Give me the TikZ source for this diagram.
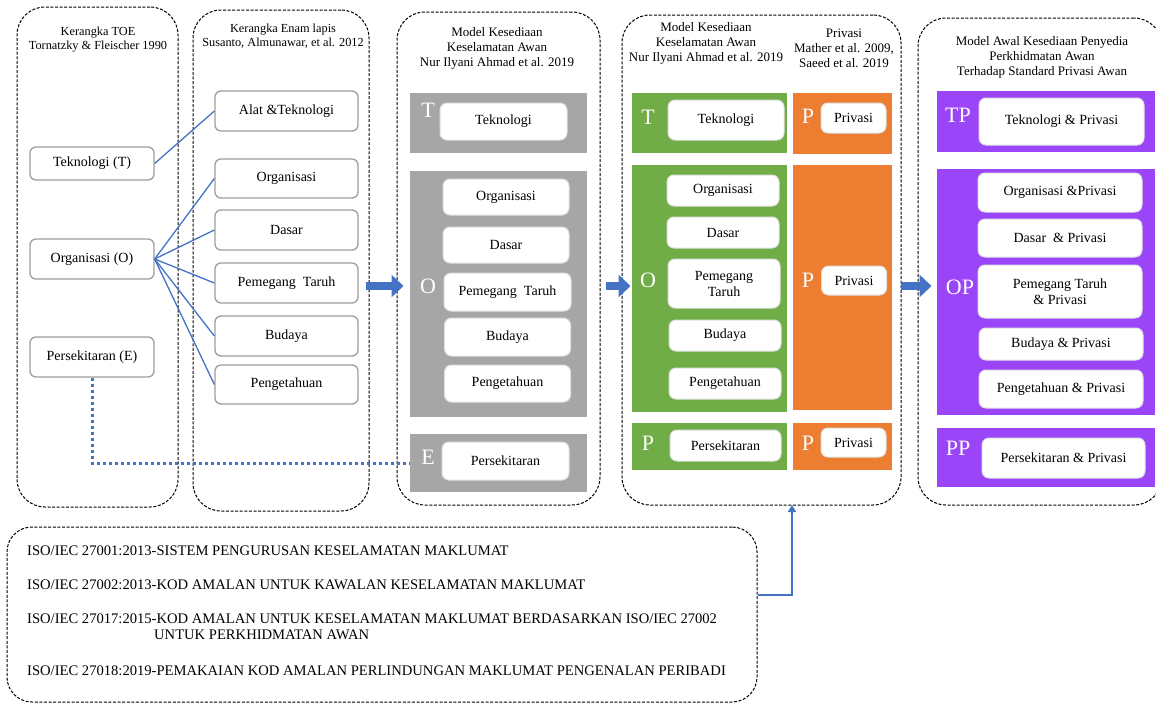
\documentclass[tikz,border=0pt]{standalone}
\usepackage{fontspec}
\setmainfont{Liberation Serif}
\usetikzlibrary{arrows.meta}
\definecolor{kfblue}{HTML}{4472C4}
\definecolor{kfgray}{HTML}{A6A6A6}
\definecolor{kfgreen}{HTML}{70AD47}
\definecolor{kforange}{HTML}{ED7D31}
\definecolor{kfpurple}{HTML}{9A45F7}

\begin{document}
\begin{tikzpicture}[x=1pt,y=-1pt]
        \tikzset{
        kf frame/.style={draw,line width=1pt,dash pattern=on 3pt off 1.6pt,rounded corners=28pt,inner sep=0},
        kf head/.style={align=center,inner sep=0,font=\fontsize{12.3}{14}\selectfont},
        kf head2/.style={align=center,inner sep=0,font=\fontsize{13}{15}\selectfont},
        kf box/.style={draw=black!38,line width=1.3pt,rounded corners=6pt,fill=white,inner sep=0,align=center,font=\fontsize{14}{16}\selectfont},
        kf item/.style={draw=black!12,line width=1pt,rounded corners=7pt,fill=white,inner sep=0,align=center,font=\fontsize{14}{16}\selectfont},
        kf panel/.style={inner sep=0},
        kf letter/.style={text=white,inner sep=0,font=\fontsize{22}{22}\selectfont},
        kf iso/.style={anchor=west,inner sep=0,font=\fontsize{14.6}{16}\selectfont},
        kf link/.style={draw=kfblue,line width=1.3pt},
        kf flow/.style={draw=kfblue,line width=8pt,-{Triangle[length=12pt,width=22pt]}}
        }
        \useasboundingbox (0,0) rectangle (1156,704);

        % frames
        \node[kf frame,minimum width=161pt,minimum height=500pt] (c1) at (97.5,257) {};
        \node[kf frame,minimum width=176pt,minimum height=501pt] (c2) at (281,260.5) {};
        \node[kf frame,minimum width=203pt,minimum height=493pt] (c3) at (498.5,258.5) {};
        \node[kf frame,minimum width=279pt,minimum height=490pt] (c4) at (761.5,260) {};
        \node[kf frame,minimum width=244pt,minimum height=487pt] (c5) at (1040,261.5) {};
        \node[kf frame,rounded corners=25pt,minimum width=750pt,minimum height=175pt] (iso) at (382,614.5) {};
        \coordinate (c4in) at (792,505);

        % headings
        \node[kf head] (h1) at (98,40) {Kerangka TOE\\Tornatzky \& Fleischer 1990};
        \node[kf head] (h2) at (283,36) {Kerangka Enam lapis\\Susanto, Almunawar, et al. 2012};
        \node[kf head2] (h3) at (497,48) {Model Kesediaan\\Keselamatan Awan\\Nur Ilyani Ahmad et al. 2019};
        \node[kf head2] (h4) at (706,43) {Model Kesediaan\\Keselamatan Awan\\Nur Ilyani Ahmad et al. 2019};
        \node[kf head2] (h4p) at (844,48) {Privasi\\Mather et al. 2009,\\Saeed et al. 2019};
        \node[kf head2] (h5) at (1042,57) {Model Awal Kesediaan Penyedia\\Perkhidmatan Awan\\Terhadap Standard Privasi Awan};

        % TOE
        \node[kf box,minimum width=124pt,minimum height=33pt] (tekT) at (92,163.5) {Teknologi (T)};
        \node[kf box,minimum width=124pt,minimum height=40pt] (orgO) at (92,259) {Organisasi (O)};
        \node[kf box,minimum width=124pt,minimum height=40pt] (perE) at (92,357) {Persekitaran (E)};

        % enam lapis
        \node[kf box,minimum width=143pt,minimum height=40pt] (alat) at (286.5,111) {Alat \&Teknologi};
        \node[kf box,minimum width=143pt,minimum height=39pt] (org2) at (286.5,178.5) {Organisasi};
        \node[kf box,minimum width=143pt,minimum height=40pt] (das2) at (286.5,230) {Dasar};
        \node[kf box,minimum width=143pt,minimum height=40pt] (pem2) at (286.5,283) {Pemegang\ \ Taruh};
        \node[kf box,minimum width=143pt,minimum height=40pt] (bud2) at (286.5,336) {Budaya};
        \node[kf box,minimum width=143pt,minimum height=39pt] (peng2) at (286.5,384.5) {Pengetahuan};

        % keselamatan awan
        \node[kf panel,fill=kfgray,minimum width=177pt,minimum height=60pt] (pT3) at (498.5,123) {};
        \node[kf panel,fill=kfgray,minimum width=177pt,minimum height=246pt] (pO3) at (498.5,294) {};
        \node[kf panel,fill=kfgray,minimum width=177pt,minimum height=58pt] (pE3) at (498.5,463) {};
        \node[kf letter] (lt3) at (428,110) {T};
        \node[kf letter] (lo3) at (428,286) {O};
        \node[kf letter] (le3) at (428,457) {E};
        \node[kf item,minimum width=127pt,minimum height=37pt] (tek3) at (503.5,121.5) {Teknologi};
        \node[kf item,minimum width=126pt,minimum height=36pt] (org3) at (506,197) {Organisasi};
        \node[kf item,minimum width=126pt,minimum height=36pt] (das3) at (506,245) {Dasar};
        \node[kf item,minimum width=127pt,minimum height=38pt] (pem3) at (507.5,292) {Pemegang\ \ Taruh};
        \node[kf item,minimum width=126pt,minimum height=38pt] (bud3) at (507.5,337) {Budaya};
        \node[kf item,minimum width=126pt,minimum height=37pt] (peng3) at (507.5,383.5) {Pengetahuan};
        \node[kf item,minimum width=127pt,minimum height=38pt] (pers3) at (505.5,461) {Persekitaran};

        % keselamatan awan + privasi
        \node[kf panel,fill=kfgreen,minimum width=155pt,minimum height=60pt] (gT) at (709.5,123) {};
        \node[kf panel,fill=kfgreen,minimum width=155pt,minimum height=247pt] (gO) at (709.5,288.5) {};
        \node[kf panel,fill=kfgreen,minimum width=155pt,minimum height=47pt] (gP) at (709.5,446.5) {};
        \node[kf panel,fill=kforange,minimum width=99pt,minimum height=61pt] (oT) at (842.5,123.5) {};
        \node[kf panel,fill=kforange,minimum width=99pt,minimum height=245pt] (oO) at (842.5,287.5) {};
        \node[kf panel,fill=kforange,minimum width=99pt,minimum height=47pt] (oP) at (842.5,446.5) {};
        \node[kf letter] (lt4) at (648,117) {T};
        \node[kf letter] (lo4) at (648,280) {O};
        \node[kf letter] (lp4) at (648,443) {P};
        \node[kf letter] (lq1) at (808,116) {P};
        \node[kf letter] (lq2) at (808,280) {P};
        \node[kf letter] (lq3) at (808,443) {P};
        \node[kf item,minimum width=116pt,minimum height=40pt] (tek4) at (726,120) {Teknologi};
        \node[kf item,minimum width=112pt,minimum height=31pt] (org4) at (723,190.5) {Organisasi};
        \node[kf item,minimum width=112pt,minimum height=31pt] (das4) at (723,232.5) {Dasar};
        \node[kf item,minimum width=112pt,minimum height=49pt] (pem4) at (724,283.5) {Pemegang\\Taruh};
        \node[kf item,minimum width=112pt,minimum height=31pt] (bud4) at (725,335.5) {Budaya};
        \node[kf item,minimum width=112pt,minimum height=31pt] (peng4) at (725,383.5) {Pengetahuan};
        \node[kf item,minimum width=111pt,minimum height=31pt] (pers4) at (725.5,445.5) {Persekitaran};
        \node[kf item,minimum width=65pt,minimum height=30pt] (pri1) at (853.5,118) {Privasi};
        \node[kf item,minimum width=65pt,minimum height=29pt] (pri2) at (854,280.5) {Privasi};
        \node[kf item,minimum width=65pt,minimum height=29pt] (pri3) at (853.5,442.5) {Privasi};

        % model awal
        \node[kf panel,fill=kfpurple,minimum width=218pt,minimum height=61pt] (pT5) at (1046,121.5) {};
        \node[kf panel,fill=kfpurple,minimum width=218pt,minimum height=246pt] (pO5) at (1046,292) {};
        \node[kf panel,fill=kfpurple,minimum width=218pt,minimum height=59pt] (pP5) at (1046,457.5) {};
        \node[kf letter] (lt5) at (958,115) {TP};
        \node[kf letter] (lo5) at (960,287) {OP};
        \node[kf letter] (lp5) at (958,448) {PP};
        \node[kf item,minimum width=165pt,minimum height=47pt] (tek5) at (1061.5,121.5) {Teknologi \& Privasi};
        \node[kf item,minimum width=164pt,minimum height=39pt] (org5) at (1060,192.5) {Organisasi \&Privasi};
        \node[kf item,minimum width=164pt,minimum height=38pt] (das5) at (1060,238) {Dasar\ \ \& Privasi};
        \node[kf item,minimum width=164pt,minimum height=53pt] (pem5) at (1060,291.5) {Pemegang Taruh\\\& Privasi};
        \node[kf item,minimum width=164pt,minimum height=32pt] (bud5) at (1061,344) {Budaya \& Privasi};
        \node[kf item,minimum width=164pt,minimum height=38pt] (peng5) at (1061,389) {Pengetahuan \& Privasi};
        \node[kf item,minimum width=163pt,minimum height=40pt] (pers5) at (1063.5,458) {Persekitaran \& Privasi};

        % standards
        \node[kf iso] (iso1) at (27,551) {ISO/IEC 27001:2013-SISTEM PENGURUSAN KESELAMATAN MAKLUMAT};
        \node[kf iso] (iso2) at (27,585) {ISO/IEC 27002:2013-KOD AMALAN UNTUK KAWALAN KESELAMATAN MAKLUMAT};
        \node[kf iso] (iso3) at (27,619) {ISO/IEC 27017:2015-KOD AMALAN UNTUK KESELAMATAN MAKLUMAT BERDASARKAN ISO/IEC 27002};
        \node[kf iso] (iso3b) at (154,635) {UNTUK PERKHIDMATAN AWAN};
        \node[kf iso] (iso4) at (27,671) {ISO/IEC 27018:2019-PEMAKAIAN KOD AMALAN PERLINDUNGAN MAKLUMAT PENGENALAN PERIBADI};

        \path[kf link]
        (tekT.east) edge (alat.west)
        (orgO.east) edge (org2.west)
        (orgO.east) edge (das2.west)
        (orgO.east) edge (pem2.west)
        (orgO.east) edge (bud2.west)
        (orgO.east) edge (peng2.west)
        ;
        \draw[kfblue,line width=3pt,dash pattern=on 3pt off 3pt] (perE.south) |- (pE3.west);
        \draw[kf flow,shorten <=-4pt,shorten >=-7pt] (c2.east |- lo3) -- (c3.west |- lo3);
        \draw[kf flow,shorten <=5pt,shorten >=-9pt] (c3.east |- lo3) -- (c4.west |- lo3);
        \draw[kf flow,shorten <=-1pt,shorten >=-14pt] (c4.east |- lo3) -- (c5.west |- lo3);
        \draw[kfblue,line width=2.5pt,-{Triangle[length=7pt,width=8pt]}] ([yshift=19.5pt]iso.east) -| (c4in);
    \end{tikzpicture}
\end{document}
